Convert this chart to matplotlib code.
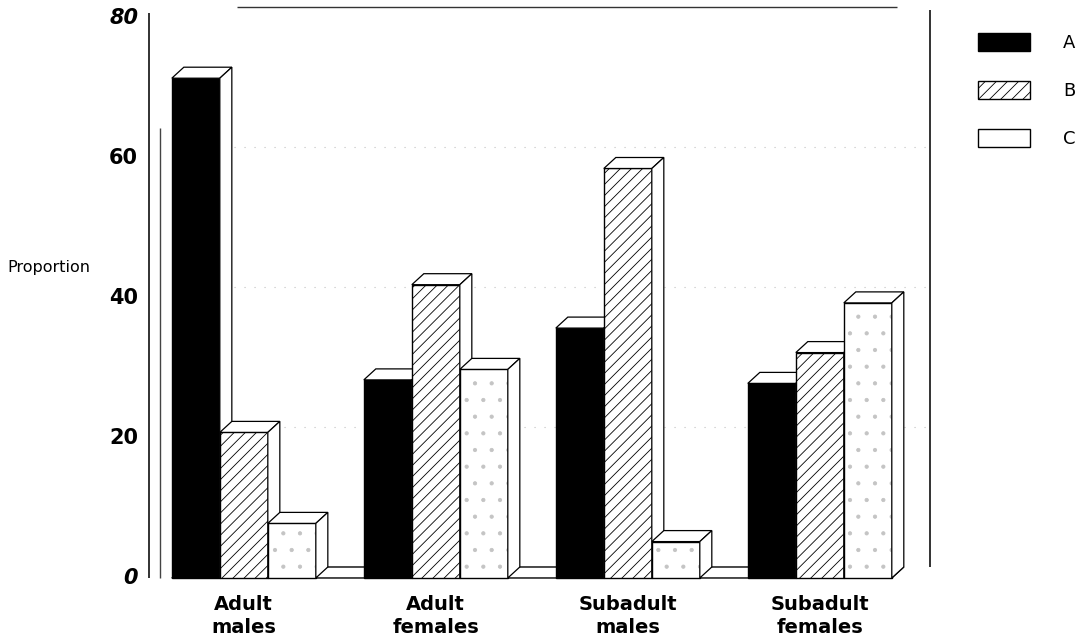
import matplotlib.pyplot as plt
from matplotlib.patches import Polygon, Patch
import numpy as np

plt.rcParams['font.family'] = ['DejaVu Sans']
plt.rcParams['hatch.linewidth'] = 0.6

grupos = ["Adult\nmales", "Adult\nfemales", "Subadult\nmales", "Subadult\nfemales"]
series = ["A", "B", "C"]
valores_A = [71.4, 28.3, 35.7, 27.8]
valores_B = [20.8, 41.9, 58.5, 32.2]
valores_C = [7.8, 29.8, 5.2, 39.3]
ticks_y = [0, 20, 40, 60, 80]

# profundidade do efeito 3D (em unidades de barra / unidades do eixo y)
dx, dy = 0.25, 1.57

estilos = {
    "A": dict(facecolor="black", hatch=None),
    "B": dict(facecolor="white", hatch="///"),
    "C": dict(facecolor="white", hatch="."),
}

fig = plt.figure(figsize=(10.79, 6.4), dpi=100)
ax = fig.add_axes([0, 0, 1, 1])
ax.set_xlim(-3.58, 18.9)
ax.set_ylim(-8.86, 82.57)
ax.axis("off")

n_grupos = len(grupos)
x_fim = 4 * (n_grupos - 1) + 3

# piso
ax.add_patch(Polygon([(0, 0), (dx, dy), (x_fim + dx, dy), (x_fim, 0)],
                     closed=True, facecolor="white", edgecolor="black", lw=1, zorder=2))

# linhas de grade na parede do fundo
for v in ticks_y[1:-1]:
    ax.hlines(v + dy, dx, 15.8, colors="#c0c0c0", linestyles=(0, (1, 8)), lw=0.8, zorder=1)
ax.hlines(80 + dy, 1.35, 15.1, colors="#333333", lw=1.0, zorder=1)
ax.vlines(15.8, dy, 80 + dy * 0.7, colors="#222222", lw=1.3, zorder=1)
ax.vlines(-0.48, 0, 80.7, colors="#222222", lw=1.3, zorder=1)
ax.vlines(-0.25, 0, 64.3, colors="#444444", lw=1.0, zorder=1)

dados = {"A": valores_A, "B": valores_B, "C": valores_C}
k = 0
for g in range(n_grupos):
    for j, s in enumerate(series):
        x0 = 4 * g + j
        h = dados[s][g]
        z = 10 + 3 * k
        est = estilos[s]
        if s == "C":
            # pontilhado cinza claro + contorno preto por cima
            ax.bar(x0, h, width=1, align="edge", facecolor="white", edgecolor="#c4c4c4",
                   hatch=".", lw=0, zorder=z)
            ax.bar(x0, h, width=1, align="edge", facecolor="none", edgecolor="black",
                   lw=1, zorder=z + 0.5)
        else:
            ax.bar(x0, h, width=1, align="edge", facecolor=est["facecolor"],
                   edgecolor="black", hatch=est["hatch"], lw=1, zorder=z)
        topo = [(x0, h), (x0 + dx, h + dy), (x0 + 1 + dx, h + dy), (x0 + 1, h)]
        lado = [(x0 + 1, 0), (x0 + 1 + dx, dy), (x0 + 1 + dx, h + dy), (x0 + 1, h)]
        ax.add_patch(Polygon(topo, closed=True, facecolor="white", edgecolor="black",
                             lw=0.9, zorder=z + 1))
        ax.add_patch(Polygon(lado, closed=True, facecolor="white", edgecolor="black",
                             lw=0.9, zorder=z + 1))
        k += 1

# rotulos do eixo y
for v in ticks_y:
    estilo = "italic" if v in (0, 80) else "normal"
    ax.text(-0.7, v, str(v), ha="right", va="center", fontsize=15,
            fontweight="bold", fontstyle=estilo)
ax.text(-3.42, 44.3, "Proportion", ha="left", va="center", fontsize=11.5)

# rotulos das categorias
for g, nome in enumerate(grupos):
    ax.text(4 * g + 1.5, -2.4, nome, ha="center", va="top", fontsize=14,
            fontweight="bold", linespacing=1.25)

handles = [Patch(facecolor="black", edgecolor="black"),
           Patch(facecolor="white", edgecolor="black", hatch="///"),
           Patch(facecolor="white", edgecolor="black")]
ax.legend(handles, series, loc="upper left", bbox_to_anchor=(978 / 1079, 1 - 33 / 640),
          bbox_transform=fig.transFigure, frameon=False, fontsize=13, borderpad=0,
          borderaxespad=0, handlelength=2.9, handleheight=1.15, labelspacing=1.6,
          handletextpad=1.8)

fig.savefig("out.png", dpi=100)
